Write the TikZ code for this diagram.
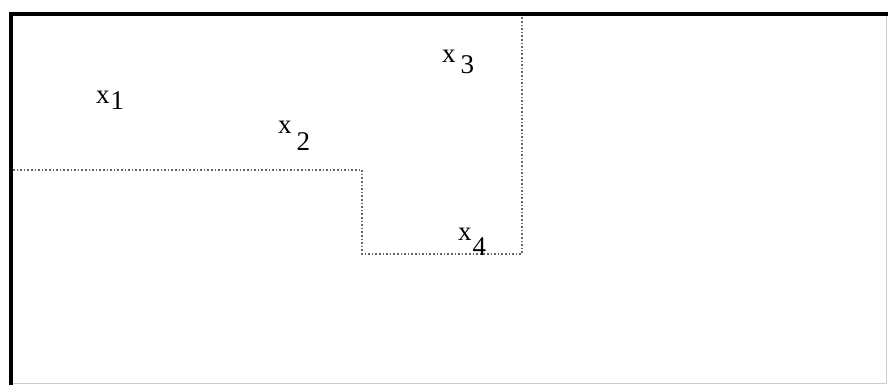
\documentclass[tikz,border=0pt]{standalone}
\usepackage{fontspec}
\setmainfont{Liberation Serif}
\begin{document}
\begin{tikzpicture}[x=1pt,y=-1pt,
  lbl/.style={anchor=base west,inner sep=0pt,font=\fontsize{27}{32}\selectfont},
  frame/.style={line width=4.5pt,black},
  faint/.style={line width=1pt,gray!40},
  region/.style={line width=1.6pt,gray!80!black,dotted}]
\useasboundingbox (0,0) rectangle (888,384);
\coordinate (tl) at (11,14);
\coordinate (tr) at (886,14);
\coordinate (bl) at (11,383);
\coordinate (br) at (886,383);
\draw[faint] (tr) -- (br) -- (bl);
\draw[frame,line cap=rect] (bl) -- (tl) -- (tr);
\coordinate (a) at (13,170);
\coordinate (b) at (362,170);
\coordinate (c) at (362,254);
\coordinate (d) at (522,254);
\coordinate (e) at (522,16);
\draw[region] (a) -- (b) -- (c) -- (d) -- (e);
\node[lbl] (x1) at (96,103) {x\hspace{1pt}\raisebox{-6pt}{1}};
\node[lbl] (x2) at (278,133) {x\hspace{5pt}\raisebox{-17pt}{2}};
\node[lbl] (x3) at (442,62) {x\hspace{5pt}\raisebox{-11pt}{3}};
\node[lbl] (x4) at (458,240) {x\hspace{1pt}\raisebox{-15pt}{4}};
\end{tikzpicture}
\end{document}
